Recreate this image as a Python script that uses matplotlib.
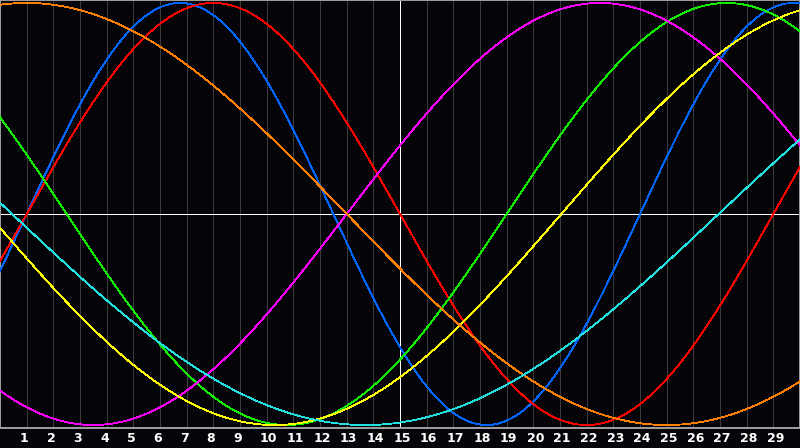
import numpy as np
import matplotlib.pyplot as plt

# cycles: period (days) and day where the curve crosses zero going up
names = ['physical', 'emotional', 'intellectual', 'intuitive', 'aesthetic', 'awareness', 'spiritual']
periods = [23, 28, 33, 38, 43, 48, 53]
zero_up = [1.0, 1.0, -14.0, 13.0, 21.05, -11.0, 26.95]
colors = ['#0066ff', '#ff0000', '#11ee00', '#ff00ff', '#ffff00', '#ff8000', '#22e0e0']

days = list(range(1, 30))
day_labels = [str(d) for d in days]
today = 15

# figure 800x448
fig = plt.figure(figsize=(8, 4.48), dpi=100)
fig.patch.set_facecolor('#050408')
ax = fig.add_axes([0, 20 / 448, 1, 428 / 448])
ax.set_facecolor('#050408')

t = np.linspace(0, 30, 1201)
for p, z, c in zip(periods, zero_up, colors):
    ax.plot(t, np.sin(2 * np.pi * (t - z) / p), color=c, lw=0.6,
            antialiased=False, zorder=3)

# day grid
for d in days:
    if d == today:
        ax.axvline(d, color='white', lw=0.6, antialiased=False, zorder=2)
    else:
        ax.axvline(d, color='#3c3c3c', lw=0.6, antialiased=False, zorder=1)
ax.axhline(0, color='white', lw=0.6, antialiased=False, zorder=2)

ax.set_xlim(0, 30)
ax.set_ylim(-1.014, 1.014)
ax.set_xticks([])
ax.set_yticks([])

# day labels sit a bit left of their grid line
for d, lab in zip(days, day_labels):
    ax.text(d - 0.25, -1.066, lab, color='white', fontsize=9,
            fontweight='bold', ha='left', va='center', clip_on=False)

for s in ax.spines.values():
    s.set_color('#a0a0a0')
    s.set_linewidth(1.4)

fig.savefig('out.png', dpi=100, facecolor=fig.get_facecolor())
